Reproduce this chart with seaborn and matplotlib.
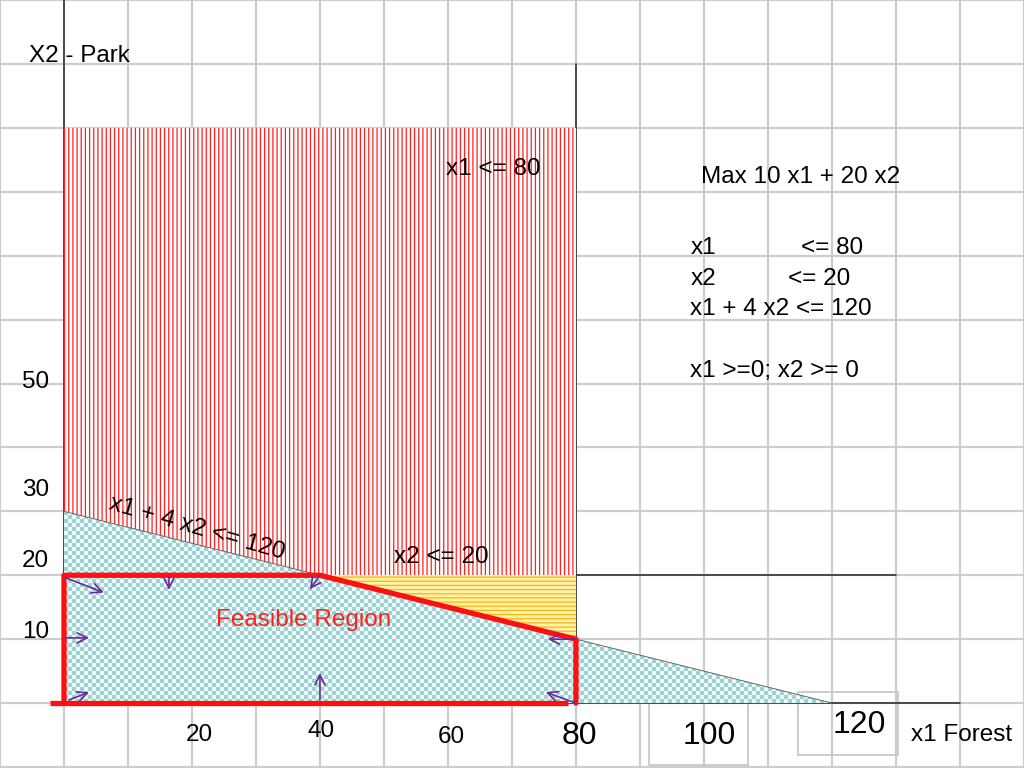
import numpy as np
import matplotlib
matplotlib.use("Agg")
import matplotlib.pyplot as plt
import seaborn as sns
import pandas as pd
from matplotlib.patches import Polygon, Rectangle
from matplotlib.colors import ListedColormap

sns.set_theme(style="white")
plt.rcParams['font.family'] = ['Liberation Sans', 'DejaVu Sans']
plt.rcParams['text.color'] = 'black'
plt.rcParams['hatch.linewidth'] = 0.9

# ─── LP model ───────────────────────────────────────────────────────────────
x1_cap = 80          # x1 <= 80
x2_cap = 20          # x2 <= 20
mix_coef = 4         # x1 + 4 x2 <= 120
mix_rhs = 120
hatch_top = 90       # top of the x1 <= 80 shaded band
x1_line_top = 100
x2_line_end = 130
x_axis_end = 140

# purple "direction" arrows (tail -> head)
arrow_tail_x = [0.0, 16.4, 40.0, 0.0, 0.8, 40.0, 80.0, 80.0]
arrow_tail_y = [19.7, 19.7, 20.0, 10.2, 0.5, 0.5, 10.0, 0.0]
arrow_head_x = [6.2, 16.4, 38.4, 3.9, 3.9, 40.0, 75.6, 75.3]
arrow_head_y = [17.3, 17.7, 17.8, 10.2, 1.7, 4.7, 10.0, 1.7]

# axis labels as on the slide
y_labels = ['50', '30', '20', '10']
y_label_pos = [50.3, 33.3, 22.3, 11.1]
x_small_labels = ['20', '40', '60']
x_small_pos = [(21.1, -5.0), (40.2, -4.4), (60.5, -5.3)]
x_big_labels = ['80', '100', '120']
x_big_pos = [(80.5, -5.2), (100.9, -5.2), (124.3, -3.4)]

model_lines = ['Max 10 x1 + 20 x2']
cons_left = ['x1', 'x2', 'x1 + 4 x2 <= 120', 'x1 >=0; x2 >= 0']
cons_left_y = [71.25, 66.4, 61.7, 52.0]

# derived corner points
x2_int = mix_rhs / mix_coef                   # 30
x1_corner = mix_rhs - mix_coef * x2_cap       # 40
x2_at_cap = (mix_rhs - x1_cap) / mix_coef     # 10

feasible = pd.DataFrame({
    'x1': [0, 0, x1_corner, x1_cap, x1_cap],
    'x2': [0, x2_cap, x2_cap, x2_at_cap, 0],
})
mix_line = pd.DataFrame({'x1': [0, mix_rhs], 'x2': [x2_int, 0]})

# ─── figure ─────────────────────────────────────────────────────────────────
fig = plt.figure(figsize=(10.24, 7.68), dpi=100)
ax = fig.add_axes([0, 0, 1, 1])
sx, sy = 513 / 80, 6.4
ax.set_xlim(-62 / sx, (1024 - 62) / sx)
ax.set_ylim(-(768 - 703) / sy, 703 / sy)
ax.set_xticks(np.arange(-10, 151, 10))
ax.set_yticks(np.arange(-10, 111, 10))
ax.tick_params(length=0, labelbottom=False, labelleft=False)
ax.grid(True, color='#cccccc', lw=1.6)
ax.set_axisbelow(True)
for s in ax.spines.values():
    s.set_visible(False)

# black axis / constraint lines
ax.plot([0, 0], [0, 110], color='#333333', lw=1.2, zorder=0.9)
ax.plot([x1_cap, x1_cap], [0, x1_line_top], color='#333333', lw=1.2, zorder=0.9)
ax.plot([0, x2_line_end], [x2_cap, x2_cap], color='#333333', lw=1.2, zorder=0.9)
ax.plot([0, x_axis_end], [0, 0], color='#333333', lw=1.2, zorder=0.9)

# red vertical hatch: x1 <= 80 region above the other constraints
red_poly = Polygon([(0, hatch_top), (x1_cap, hatch_top), (x1_cap, x2_cap),
                    (x1_corner, x2_cap), (0, x2_int)], closed=True,
                   facecolor='white', edgecolor='#ff1f1f', hatch='||||', lw=0, zorder=1)
ax.add_patch(red_poly)

# yellow horizontal hatch between x2 <= 20 and the mix constraint
yel_poly = Polygon([(x1_corner, x2_cap), (x1_cap, x2_cap), (x1_cap, x2_at_cap)],
                   closed=True, facecolor='#fff2a6', edgecolor='#f4b41c',
                   hatch='----', lw=0, zorder=1)
ax.add_patch(yel_poly)

# teal checker under x1 + 4 x2 <= 120
tri = Polygon([(0, 0), (mix_rhs, 0), (0, x2_int)], closed=True,
              facecolor='none', edgecolor='none', transform=ax.transData)
ax.add_patch(tri)
nx_c = int(mix_rhs * sx / 4)
ny_c = int(x2_int * sy / 4)
checker = (np.add.outer(np.arange(ny_c), np.arange(nx_c)) % 2)
im = ax.imshow(checker, extent=(0, mix_rhs, 0, x2_int), origin='lower',
               cmap=ListedColormap(['#edfafa', '#9ed2d2']), interpolation='nearest',
               aspect='auto', zorder=1)
im.set_clip_path(tri)

sns.lineplot(data=mix_line, x='x1', y='x2', color='#666666', lw=0.7,
             sort=False, estimator=None, ax=ax, zorder=2)

# feasible region border
sns.lineplot(data=feasible, x='x1', y='x2', color='#ff1010', lw=3.8,
             sort=False, estimator=None, ax=ax, zorder=3)
ax.plot([-2.2, 78.8], [0, 0], color='#ff1010', lw=3.8, zorder=3,
        solid_capstyle='butt')
ax.set_xlabel('')
ax.set_ylabel('')

for tx, ty, hx, hy in zip(arrow_tail_x, arrow_tail_y, arrow_head_x, arrow_head_y):
    ax.annotate('', xy=(hx, hy), xytext=(tx, ty),
                arrowprops=dict(arrowstyle='->', color='#6a2a9a', lw=1.2,
                                mutation_scale=18, shrinkA=0, shrinkB=0),
                zorder=4)

# label boxes from the slide
ax.add_patch(Rectangle((114.7, -8.1), 15.6, 9.8, fill=False,
                       edgecolor='#c4c4c4', lw=1.2, zorder=0.8))
ax.add_patch(Rectangle((91.4, -9.7), 15.5, 9.7, fill=False,
                       edgecolor='#c4c4c4', lw=1.2, zorder=0.8))

# ─── text ───────────────────────────────────────────────────────────────────
fs = 17.5
ax.text(-5.46, 101.25, 'X2 - Park', fontsize=fs, va='center', ha='left', zorder=5)
ax.text(59.7, 83.6, 'x1 <= 80', fontsize=fs, va='center', ha='left', zorder=5)
ax.text(51.5, 22.8, 'x2 <= 20', fontsize=fs, va='center', ha='left', zorder=5)
ax.text(20.7, 27.3, 'x1 + 4 x2 <= 120', fontsize=fs, va='center', ha='center',
        rotation=-16, rotation_mode='anchor', zorder=5)
ax.text(37.4, 13.0, 'Feasible Region', fontsize=fs, color='#ff1f1f',
        va='center', ha='center', zorder=5)

ax.text(99.5, 82.3, model_lines[0], fontsize=fs, va='center', ha='left', zorder=5)
for lab, yy in zip(cons_left, cons_left_y):
    ax.text(97.9, yy, lab, fontsize=fs, va='center', ha='left', zorder=5)
ax.text(115.1, cons_left_y[0], '<= 80', fontsize=fs, va='center', ha='left', zorder=5)
ax.text(113.2, cons_left_y[1], '<= 20', fontsize=fs, va='center', ha='left', zorder=5)

for lab, yy in zip(y_labels, y_label_pos):
    ax.text(-4.5, yy, lab, fontsize=fs, va='center', ha='center', zorder=5)
for lab, (xx, yy) in zip(x_small_labels, x_small_pos):
    ax.text(xx, yy, lab, fontsize=fs, va='center', ha='center', zorder=5)
for lab, (xx, yy) in zip(x_big_labels, x_big_pos):
    ax.text(xx, yy, lab, fontsize=23, va='center', ha='center', zorder=5)
ax.text(132.4, -5.0, 'x1 Forest', fontsize=fs, va='center', ha='left', zorder=5)

fig.savefig("out.png", dpi=100)
